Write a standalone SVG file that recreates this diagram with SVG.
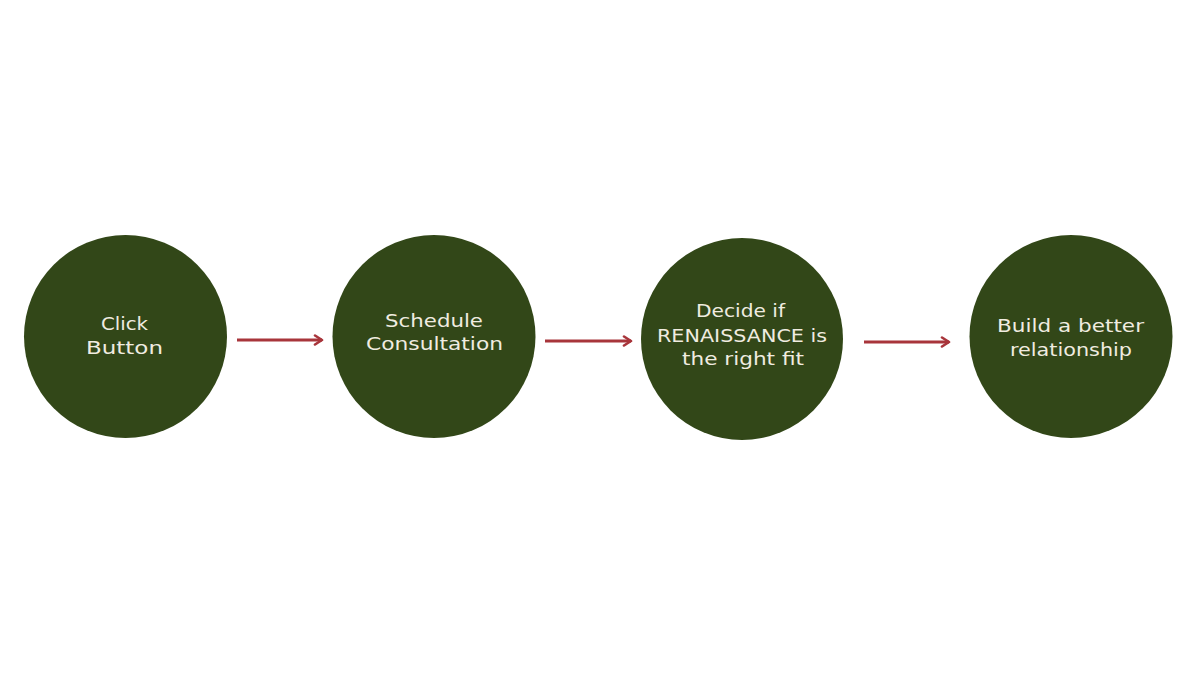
<svg xmlns="http://www.w3.org/2000/svg" width="1200" height="676" viewBox="0 0 1200 676">
<defs>
<style>
.node{fill:#324718;}
.lbl{font-family:"DejaVu Sans","Liberation Sans",sans-serif;font-size:18px;fill:#f0ece0;text-anchor:middle;}
.conn{stroke:#a8353b;stroke-width:3;fill:none;}
</style>
<marker id="ah" viewBox="0 0 12 12" refX="10" refY="6" markerWidth="12" markerHeight="12" markerUnits="userSpaceOnUse" orient="auto">
<path d="M3,1.5 L10,6 L3,10.5" fill="none" stroke="#a8353b" stroke-width="2.6" stroke-linecap="round" stroke-linejoin="round"/>
</marker>
</defs>
<rect width="1200" height="676" fill="#ffffff"/>
<g id="node1">
<circle class="node" cx="125.5" cy="336.5" r="101.5"/>
<text class="lbl" x="124.5" y="330" textLength="47" lengthAdjust="spacingAndGlyphs">Click</text>
<text class="lbl" x="124.5" y="354" textLength="77" lengthAdjust="spacingAndGlyphs">Button</text>
</g>
<g id="node2">
<circle class="node" cx="434" cy="336.5" r="101.5"/>
<text class="lbl" x="434" y="327" textLength="98" lengthAdjust="spacingAndGlyphs">Schedule</text>
<text class="lbl" x="434.5" y="350" textLength="137" lengthAdjust="spacingAndGlyphs">Consultation</text>
</g>
<g id="node3">
<circle class="node" cx="742" cy="339" r="101"/>
<text class="lbl" x="740.5" y="317" textLength="89" lengthAdjust="spacingAndGlyphs">Decide if</text>
<text class="lbl" x="742" y="342" textLength="170" lengthAdjust="spacingAndGlyphs">RENAISSANCE is</text>
<text class="lbl" x="743" y="365" textLength="122" lengthAdjust="spacingAndGlyphs">the right fit</text>
</g>
<g id="node4">
<circle class="node" cx="1071" cy="336.5" r="101.5"/>
<text class="lbl" x="1070.5" y="332" textLength="147" lengthAdjust="spacingAndGlyphs">Build a better</text>
<text class="lbl" x="1071" y="356" textLength="122" lengthAdjust="spacingAndGlyphs">relationship</text>
</g>
<g id="connectors">
<line class="conn" x1="237" y1="340" x2="322" y2="340" marker-end="url(#ah)"/>
<line class="conn" x1="545" y1="341" x2="631" y2="341" marker-end="url(#ah)"/>
<line class="conn" x1="864" y1="342" x2="949" y2="342" marker-end="url(#ah)"/>
</g>
</svg>
